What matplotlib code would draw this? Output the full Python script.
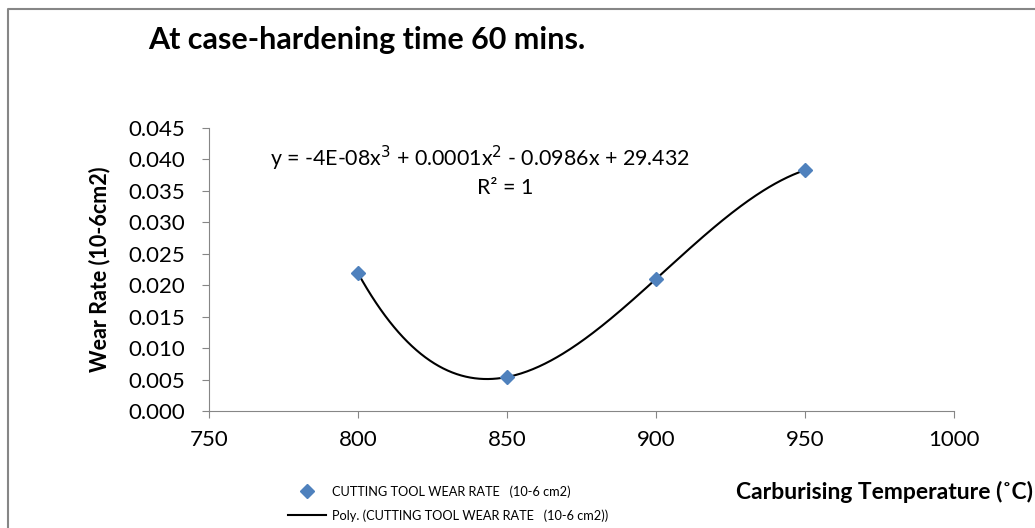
import numpy as np
import matplotlib.pyplot as plt
from matplotlib.lines import Line2D

# data
temperature = [800, 850, 900, 950]
wear_rate = [0.0219, 0.0054, 0.0210, 0.0383]
x_ticks = [750, 800, 850, 900, 950, 1000]
y_ticks = [0.000, 0.005, 0.010, 0.015, 0.020, 0.025, 0.030, 0.035, 0.040, 0.045]

plt.rcParams['font.family'] = ['Lato', 'DejaVu Sans']

fig = plt.figure(figsize=(10.35, 5.28), dpi=100)
ax = fig.add_axes([0.202, 0.2216, 0.7198, 0.536])

# poly trend (order 3)
coef = np.polyfit(temperature, wear_rate, 3)
xs = np.linspace(800, 950, 300)
ax.plot(xs, np.polyval(coef, xs), color='black', lw=1.5,
        label='Poly. (CUTTING TOOL WEAR RATE   (10-6 cm2))', zorder=2)
ax.plot(temperature, wear_rate, 'D', color='#4F81BD', ms=7.5,
        label='CUTTING TOOL WEAR RATE   (10-6 cm2)', zorder=3)

ax.set_xlim(750, 1000)
ax.set_ylim(0, 0.045)
ax.set_xticks(x_ticks)
ax.set_yticks(y_ticks)
ax.set_yticklabels([f'{v:.3f}' for v in y_ticks])
ax.tick_params(labelsize=16, color='#868686', length=5)
ax.tick_params(axis='y', pad=12)
ax.tick_params(axis='x', pad=9)
for s in ['top', 'right']:
    ax.spines[s].set_visible(False)
for s in ['left', 'bottom']:
    ax.spines[s].set_color('#868686')

ax.set_ylabel('Wear Rate (10-6cm2)', fontsize=15.5, fontweight='bold')
ax.yaxis.set_label_coords(-0.133, 0.5)
fig.text(0.998, 0.068, 'Carburising Temperature (˚C)', fontsize=16.5,
         fontweight='bold', ha='right', va='center')

fig.text(0.143, 0.924, 'At case-hardening time 60 mins.', fontsize=22,
         fontweight='bold', va='center')

fig.text(0.464, 0.70, 'y = -4E-08x$^3$ + 0.0001x$^2$ - 0.0986x + 29.432',
         fontsize=15.4, ha='center', va='center')
fig.text(0.488, 0.644, 'R² = 1', fontsize=15.4, ha='center', va='center')

handles, labels = ax.get_legend_handles_labels()
fig.legend(handles[::-1], labels[::-1], loc='center left',
           bbox_to_anchor=(0.278, 0.0464), frameon=False, fontsize=9.2,
           handlelength=3, labelspacing=0.9, borderpad=0, handletextpad=0.5,
           borderaxespad=0)

# outer chart border (left and top visible)
fig.add_artist(Line2D([0.0077, 0.0077, 1.0], [0.0, 0.983, 0.983],
                      transform=fig.transFigure, color='#868686', lw=1.5))

fig.savefig('out.png', dpi=100)
